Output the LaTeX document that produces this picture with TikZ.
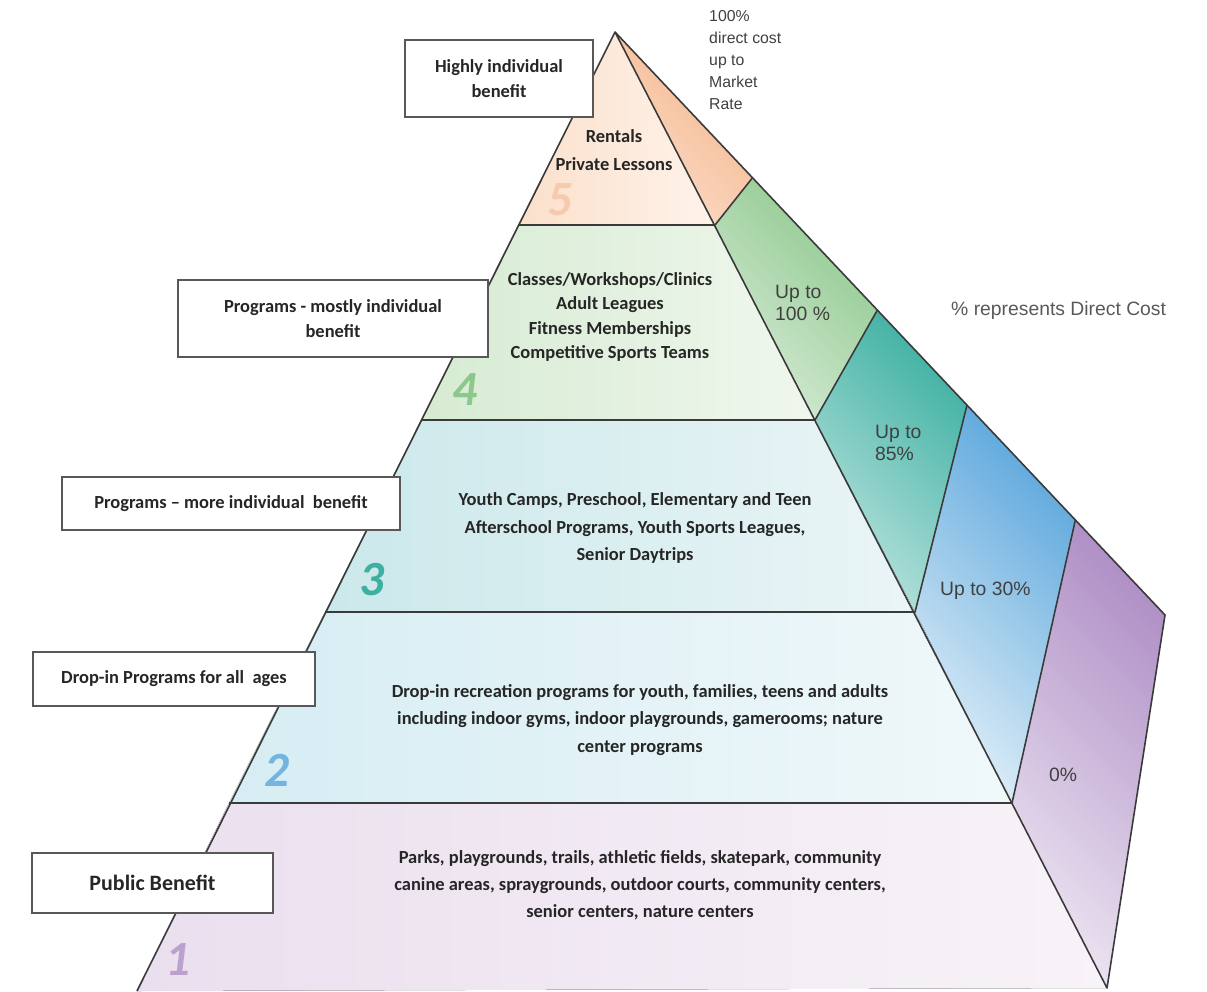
\documentclass[tikz,border=0pt]{standalone}
\usepackage{fontspec}
\setmainfont{Carlito}
\newfontfamily\arialfont{Liberation Sans}
\usetikzlibrary{positioning,calc}

\definecolor{edgegray}{HTML}{3A3A3A}
\definecolor{peachA}{HTML}{FBE0CB}
\definecolor{peachB}{HTML}{FEF3EA}
\definecolor{greenA}{HTML}{D6EBD2}
\definecolor{greenB}{HTML}{F0F7EE}
\definecolor{tealA}{HTML}{CBE8EB}
\definecolor{tealB}{HTML}{EAF5F6}
\definecolor{blueA}{HTML}{D6EDF3}
\definecolor{blueB}{HTML}{F0F8FA}
\definecolor{lilacA}{HTML}{EADFEE}
\definecolor{lilacB}{HTML}{F8F3F8}
\definecolor{sideorange}{HTML}{F5B48A}
\definecolor{sidegreen}{HTML}{8CC78B}
\definecolor{sideteal}{HTML}{3DB0A2}
\definecolor{sideblue}{HTML}{5BA7DC}
\definecolor{sidelilac}{HTML}{B090C6}

\begin{document}
\begin{tikzpicture}[
    x=0.02cm, y=-0.02cm,
    face/.style={draw=edgegray, line width=0.9pt, line join=round},
    benefit/.style={draw=edgegray!85, line width=1pt, fill=white, align=center,
                font=\fontsize{10.5}{14}\selectfont\bfseries, text=black!85, inner sep=2pt},
    tiertext/.style={align=center, font=\fontsize{10.5}{15.5}\selectfont\bfseries, text=black!85},
    costtext/.style={align=left, font=\arialfont\fontsize{11}{13}\selectfont, text=black!75, anchor=west},
    tiernum/.style={font=\fontsize{28}{28}\selectfont\bfseries\itshape},
]
\useasboundingbox (0,0) rectangle (1207,991);

% Corners of the pyramid
\coordinate (Apex) at (615,32);
\coordinate (L5) at (518,225);
\coordinate (L4) at (421,420);
\coordinate (L3) at (325,612);
\coordinate (L2) at (229,803);
\coordinate (L1) at (137,991);
\coordinate (R5) at (715,225);
\coordinate (R4) at (815,420);
\coordinate (R3) at (915,612);
\coordinate (R2) at (1012,803);
\coordinate (R1) at (1107,988);
\coordinate (O1) at (1165,615);
\coordinate (O5) at ($(Apex)!0.25!(O1)$);
\coordinate (O4) at ($(Apex)!0.477!(O1)$);
\coordinate (O3) at ($(Apex)!0.64!(O1)$);
\coordinate (O2) at ($(Apex)!0.837!(O1)$);

% Front faces
\fill[left color=peachA, right color=peachB] (Apex) -- (L5) -- (R5) -- cycle;
\fill[left color=greenA, right color=greenB] (L5) -- (L4) -- (R4) -- (R5) -- cycle;
\fill[left color=tealA, right color=tealB] (L4) -- (L3) -- (R3) -- (R4) -- cycle;
\fill[left color=blueA, right color=blueB] (L3) -- (L2) -- (R2) -- (R3) -- cycle;
\fill[left color=lilacA, right color=lilacB] (L2) -- (L1) -- (R1) -- (R2) -- cycle;

% Side faces
\fill[top color=sideorange, bottom color=sideorange!45, shading angle=-45] (Apex) -- (R5) -- (O5) -- cycle;
\fill[top color=sidegreen, bottom color=sidegreen!35, shading angle=-45] (R5) -- (R4) -- (O4) -- (O5) -- cycle;
\fill[top color=sideteal, bottom color=sideteal!35, shading angle=-45] (R4) -- (R3) -- (O3) -- (O4) -- cycle;
\fill[top color=sideblue, bottom color=sideblue!20, shading angle=-45] (R3) -- (R2) -- (O2) -- (O3) -- cycle;
\fill[top color=sidelilac, bottom color=sidelilac!25, shading angle=-45] (R2) -- (R1) -- (O1) -- (O2) -- cycle;

% Lines
\draw[face] (L1) -- (Apex) -- (R1) -- (O1) -- (Apex);
\draw[face] (L5) -- (R5) -- (O5);
\draw[face] (L4) -- (R4) -- (O4);
\draw[face] (L3) -- (R3) -- (O3);
\draw[face] (L2) -- (R2) -- (O2);

% Tier contents
\node[tiertext] (Tier5) at (614,150) {Rentals\\Private Lessons};
\node[tiertext, font=\fontsize{10.5}{14}\selectfont\bfseries] (Tier4) at (610,317)
    {Classes/Workshops/Clinics\\Adult Leagues\\Fitness Memberships\\Competitive Sports Teams};
\node[tiertext] (Tier3) at (635,528)
    {Youth Camps, Preschool, Elementary and Teen\\Afterschool Programs, Youth Sports Leagues,\\Senior Daytrips};
\node[tiertext] (Tier2) at (640,720)
    {Drop-in recreation programs for youth, families, teens and adults\\including indoor gyms, indoor playgrounds,  gamerooms; nature\\center programs};
\node[tiertext] (Tier1) at (640,885)
    {Parks, playgrounds,  trails,  athletic fields, skatepark, community\\canine areas, spraygrounds,  outdoor courts, community centers,\\senior centers, nature centers};

% Tier numbers
\node[tiernum, text=sideorange!70] (Num5) at (560,200) {5};
\node[tiernum, text=sidegreen] (Num4) at (465,390) {4};
\node[tiernum, text=sideteal] (Num3) at (372,580) {3};
\node[tiernum, text=sideblue!85] (Num2) at (277,770) {2};
\node[tiernum, text=sidelilac!85] (Num1) at (178,960) {1};

% Benefit boxes
\node[benefit, minimum width=3.76cm, minimum height=1.54cm] (Highly) at (499,78.5) {Highly individual\\benefit};
\node[benefit, minimum width=6.2cm, minimum height=1.54cm] (Mostly) at (333,318.5) {Programs - mostly individual\\benefit};
\node[benefit, minimum width=6.76cm, minimum height=1.06cm] (More) at (231,503.5) {Programs -- more individual\ \ benefit};
\node[benefit, minimum width=5.64cm, minimum height=1.08cm] (DropIn) at (174,679) {Drop-in Programs for all\ \ ages};
\node[benefit, minimum width=4.82cm, minimum height=1.2cm, font=\fontsize{12.5}{14}\selectfont\bfseries] (Public) at (152.5,883) {Public Benefit};

% Direct cost
\node[costtext, font=\arialfont\fontsize{9}{12.5}\selectfont] (Cost5) at (703,60) {100\%\\direct cost\\up to\\Market\\Rate};
\node[costtext] (Cost4) at (769,303) {Up to\\100 \%};
\node[costtext] (Cost3) at (869,443) {Up to\\85\%};
\node[costtext] (Cost2) at (934,591) {Up to 30\%};
\node[costtext] (Cost1) at (1043,775) {0\%};
\node[costtext, text=black!65] (Legend) at (945,310) {\% represents Direct Cost};

\end{tikzpicture}
\end{document}
